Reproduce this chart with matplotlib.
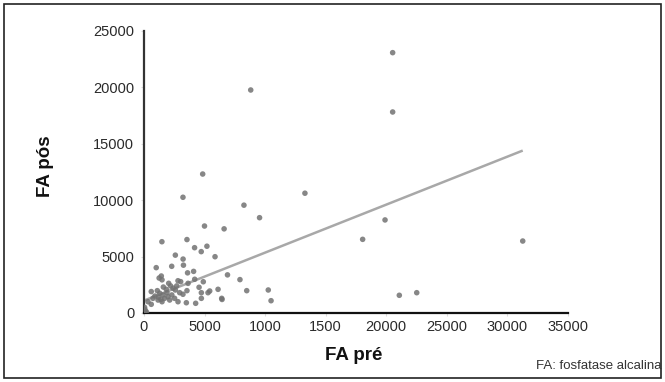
import matplotlib
matplotlib.use("Agg")
import matplotlib.pyplot as plt
from matplotlib.patches import Rectangle

# Alkaline phosphatase before (FA pré) and after (FA pós)
fa_pre = [
    20550, 20550, 8820, 4850, 13300, 3220, 8260, 9550, 19920, 5000,
    6620, 18070, 31300, 1480, 3550, 21100, 22540, 10270, 10500, 8490,
    7930, 6900,
    4180, 5200, 4730, 5870, 2590, 3230, 3260, 2290, 1010, 4100,
    3600, 4900, 1430, 1490, 1250, 2810, 3030, 4190, 3640, 2040,
    2200, 600, 1100, 1300, 1570, 1840, 2400, 2590, 2950, 3550,
    4550, 4740, 5290, 5430, 6120, 6420, 6450, 4740, 4270, 3500,
    2810, 740, 1160, 1490, 330, 600, 1980, 2120, 2530, 3220,
    80, 100, 50, 200,
    1200, 1700, 1900, 2300, 1600, 900, 1400, 2700,
]
fa_pos = [
    23080, 17820, 19770, 12320, 10620, 10260, 9560, 8450, 8250, 7710,
    7460, 6530, 6380, 6320, 6510, 1570, 1800, 2040, 1090, 1980,
    2960, 3380,
    5790, 5920, 5440, 4990, 5130, 4780, 4240, 4140, 4020, 3690,
    3560, 2770, 3280, 2940, 3100, 2860, 2780, 2990, 2630, 2630,
    2400, 1900, 1980, 1750, 1600, 2100, 2200, 2040, 1800, 1980,
    2280, 1800, 1800, 1950, 2100, 1300, 1200, 1300, 860, 910,
    1000, 1300, 1150, 1000, 1000, 770, 1450, 1150, 1300, 1660,
    300, 150, 500, 100,
    1400, 1300, 1800, 1600, 2300, 1500, 1200, 2400,
]

# Fitted trend line end points
trend_x = [0, 31300]
trend_y = [1100, 14400]

x_ticks = [0, 5000, 10000, 15000, 20000, 25000, 30000, 35000]
x_tick_labels = ["0", "5000", "1000", "1500", "20000", "25000", "30000", "35000"]
y_ticks = [0, 5000, 10000, 15000, 20000, 25000]
y_tick_labels = ["0", "5000", "10000", "15000", "20000", "25000"]

W, H = 665, 382
fig = plt.figure(figsize=(W / 100, H / 100), dpi=100)
plt.rcParams["font.family"] = ["Liberation Sans", "DejaVu Sans"]

ax = fig.add_axes([144 / W, 69 / H, (567.5 - 144) / W, (313 - 31) / H])
ax.set_xlim(0, 35000)
ax.set_ylim(0, 25000)

ax.plot(trend_x, trend_y, color="#a8a8a8", lw=1.8, solid_capstyle="butt", zorder=2)
ax.scatter(fa_pre, fa_pos, s=16, color="#727272", edgecolors="none", alpha=0.85, zorder=3)

for side in ("top", "right"):
    ax.spines[side].set_visible(False)
ax.spines["left"].set_color("#333333")
ax.spines["left"].set_linewidth(1.6)
ax.spines["bottom"].set_color("#111111")
ax.spines["bottom"].set_linewidth(1.6)

ax.set_xticks(x_ticks)
ax.set_xticklabels(x_tick_labels)
ax.set_yticks(y_ticks)
ax.set_yticklabels(y_tick_labels)
ax.tick_params(axis="both", length=2, width=0.8, color="#dddddd",
               labelsize=10.5, labelcolor="#2a2a2a")
ax.tick_params(axis="x", pad=3)
ax.tick_params(axis="y", pad=5)

fig.text(354 / W, 1 - 355 / H, "FA pré", ha="center", va="center",
         fontsize=13.5, fontweight="bold", color="#111111")
fig.text(46 / W, 1 - 166 / H, "FA pós", ha="center", va="center",
         rotation=90, fontsize=13.5, fontweight="bold", color="#111111")
fig.text(661 / W, 1 - 366 / H, "FA: fosfatase alcalina", ha="right", va="center",
         fontsize=9.5, color="#333333")

fig.patches.append(Rectangle((3.5 / W, 4 / H), (661 - 3.5) / W, (378 - 4) / H,
                             transform=fig.transFigure, fill=False,
                             edgecolor="#222222", linewidth=1.2))

fig.savefig("out.png", dpi=100)
